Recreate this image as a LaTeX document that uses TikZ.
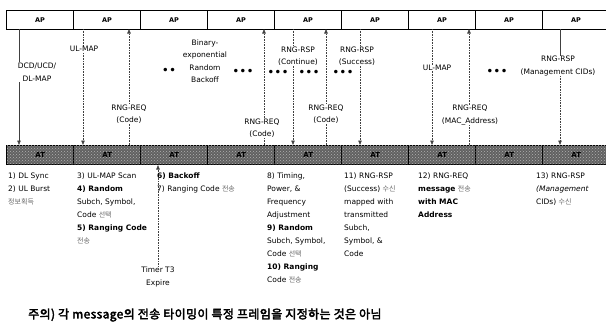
\documentclass[tikz,border=0pt]{standalone}
\usepackage{fontspec}
\setmainfont{DejaVu Sans}
\newfontfamily\kr{Noto Sans CJK KR}
\newfontfamily\krbold[FakeBold=3,LetterSpace=3]{Noto Sans CJK KR}
\usetikzlibrary{arrows.meta,patterns}
\newcommand{\ko}[1]{{\kr\color{black!60}\fontsize{7}{8}\selectfont #1}}
\tikzset{
  apbox/.style={draw=black, line width=0.8pt, fill=white, minimum width=67pt, minimum height=19pt, inner sep=0pt, anchor=north west, font=\bfseries\fontsize{6.5}{7}\selectfont},
  atbox/.style={draw=black, line width=1.4pt, fill=black!62, postaction={pattern=crosshatch dots, pattern color=black!30}, minimum width=67pt, minimum height=19pt, inner sep=0pt, anchor=north west, text=black, font=\bfseries\fontsize{7}{8}\selectfont},
  dl/.style={densely dotted, line width=0.6pt, black!75},
  sl/.style={line width=0.5pt, black!75},
  arr/.style={-{Triangle[length=4.5pt,width=3.5pt]}},
  lab/.style={fill=white, inner sep=0.5pt, align=center, font=\fontsize{7.5}{12.5}\selectfont},
  col/.style={anchor=north west, inner sep=0pt, align=left, font=\fontsize{7.5}{13}\selectfont},
  dots/.style={inner sep=0pt, font=\fontsize{12}{12}\selectfont}
}
\begin{document}
\begin{tikzpicture}[x=1pt,y=-1pt]
\useasboundingbox (0,0) rectangle (606,324);
\clip (0,0) rectangle (606,324);
% top AP bar
\foreach \i in {0,...,8}{
  \node[apbox] (ap\i) at ({6+67*\i},10) {AP};
}
% bottom AT bar
\foreach \i in {0,...,8}{
  \node[atbox] (at\i) at ({6+67*\i},145) {AT};
}
% coordinates
\coordinate (t1) at (19,29);  \coordinate (b1) at (19,145);
\coordinate (t2) at (83,29);  \coordinate (b2) at (83,145);
\coordinate (t3) at (129,29); \coordinate (b3) at (129,145);
\coordinate (t4) at (264,29); \coordinate (b4) at (264,145);
\coordinate (t5) at (293,29); \coordinate (b5) at (293,145);
\coordinate (t6) at (326,29); \coordinate (b6) at (326,145);
\coordinate (t7) at (360,29); \coordinate (b7) at (360,145);
\coordinate (t8) at (432,29); \coordinate (b8) at (432,145);
\coordinate (t9) at (469,29); \coordinate (b9) at (469,145);
\coordinate (t10) at (560,29); \coordinate (m10) at (560,60); \coordinate (b10) at (560,145);
\coordinate (tt) at (158,165); \coordinate (bt) at (158,268);
% connectors
\draw[sl,arr] (t1) -- (b1);
\draw[dl,arr] (t2) -- (b2);
\draw[dl,arr] (b3) -- (t3);
\draw[dl,arr] (b4) -- (t4);
\draw[dl,arr] (t5) -- (b5);
\draw[dl,arr] (b6) -- (t6);
\draw[dl,arr] (t7) -- (b7);
\draw[dl,arr] (t8) -- (b8);
\draw[dl,arr] (b9) -- (t9);
\draw[sl] (t10) -- (m10);
\draw[dl,arr] (m10) -- (b10);
\draw[dl,arr] (bt) -- (tt);
% labels
\node[lab] (l1) at (37,72) {DCD/UCD/\\DL-MAP};
\node[lab] (l2) at (84,49) {UL-MAP};
\node[lab] (l3) at (129,114) {RNG-REQ\\(Code)};
\node[lab] (l4) at (262,128) {RNG-REQ\\(Code)};
\node[lab] (l5) at (298,56) {RNG-RSP\\(Continue)};
\node[lab] (l6) at (326,114) {RNG-REQ\\(Code)};
\node[lab] (l7) at (357,56) {RNG-RSP\\(Success)};
\node[lab] (l8) at (437,68) {UL-MAP};
\node[lab] (l9) at (470,115) {RNG-REQ\\(MAC\_Address)};
\node[lab] (l10) at (558,66) {RNG-RSP\\(Management CIDs)};
\node[lab] (lb) at (205,61) {Binary-\\exponential\\Random\\Backoff};
\node[lab] (lt) at (158,277) {Timer T3\\Expire};
% dots
\node[dots] (d1) at (169,71) {••};
\node[dots] (d2) at (243,72) {•••};
\node[dots] (d3) at (278,73) {•••};
\node[dots] (d4) at (309,73) {•••};
\node[dots] (d5) at (343,73) {•••};
\node[dots] (d6) at (497,72) {•••};
% bottom texts
\node[col] (c1) at (8,173) {1) DL Sync\\2) UL Burst\\\ko{정보획득}};
\node[col] (c2) at (77,173) {3) UL-MAP Scan\\\textbf{4) Random}\\Subch, Symbol,\\Code \ko{선택}\\\textbf{5) Ranging Code}\\\ko{전송}};
\node[col] (c3) at (157,173) {\textbf{6) Backoff}\\7) Ranging Code \ko{전송}};
\node[col] (c4) at (267,173) {8) Timing,\\Power, \&\\Frequency\\Adjustment\\\textbf{9) Random}\\Subch, Symbol,\\Code \ko{선택}\\\textbf{10) Ranging}\\Code \ko{전송}};
\node[col] (c5) at (344,173) {11) RNG-RSP\\(Success) \ko{수신}\\mapped with\\transmitted\\Subch,\\Symbol, \&\\Code};
\node[col] (c6) at (418,173) {12) RNG-REQ\\\textbf{message} \ko{전송}\\\textbf{with MAC}\\\textbf{Address}};
\node[col] (c7) at (536,173) {13) RNG-RSP\\\textit{(Management}\\CIDs) \ko{수신}};
% footer
\node[anchor=west, inner sep=0pt] (foot) at (28,315) {\krbold\fontsize{12}{13}\selectfont 주의) 각 message의 전송 타이밍이 특정 프레임을 지정하는 것은 아님};
\end{tikzpicture}
\end{document}
